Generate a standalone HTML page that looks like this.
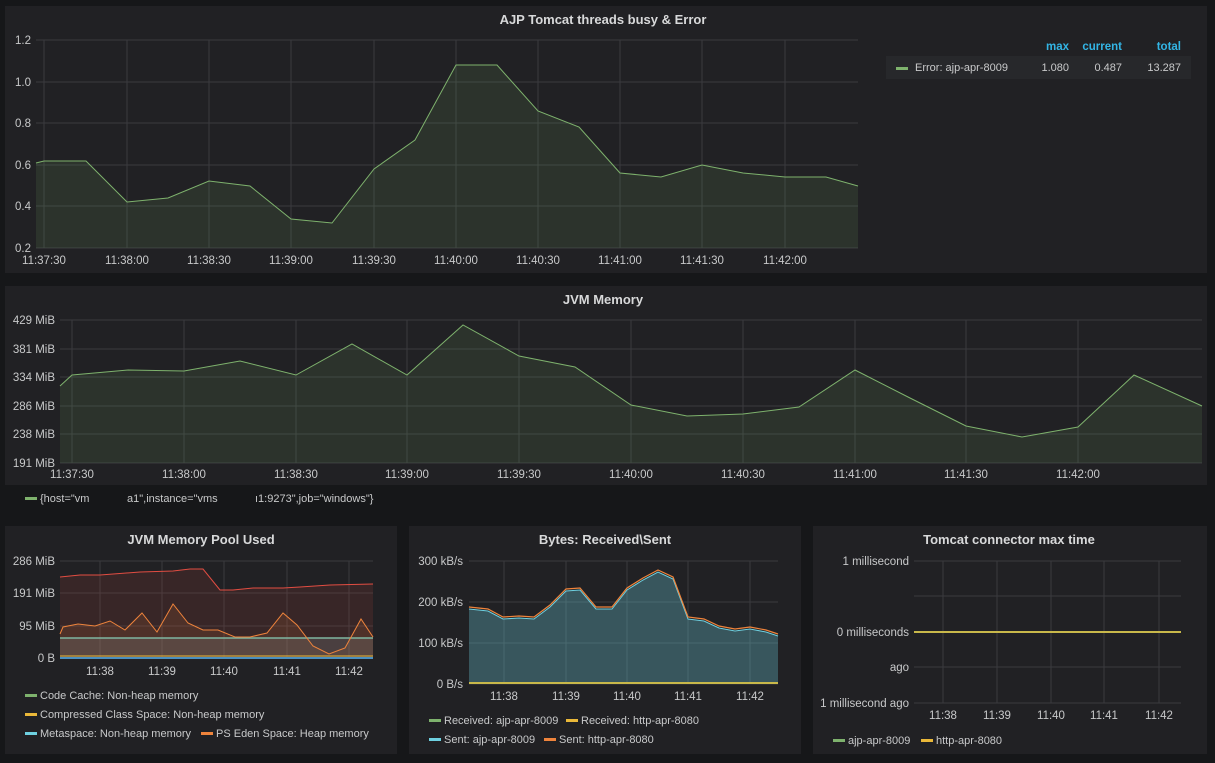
<!DOCTYPE html>
<html><head><meta charset="utf-8"><style>
html,body{margin:0;padding:0;background:#161719;}
svg{display:block;font-family:"Liberation Sans",sans-serif;}
.t{fill:#d8d9da;font-size:13px;font-weight:bold;text-anchor:middle}
.a{fill:#c8c9ca;font-size:11.5px}
.g{stroke:#3a3b3e;stroke-width:1}
.l{fill:#c8c9ca;font-size:11px}
</style></head><body>
<svg width="1215" height="763" viewBox="0 0 1215 763">
<rect width="1215" height="763" fill="#161719"/>
<!-- Panel 1 -->
<rect x="5" y="6" width="1202" height="267" fill="#212124"/>
<text class="t" x="603" y="24">AJP Tomcat threads busy &amp; Error</text>
<g class="g">
<line x1="36" y1="40" x2="858" y2="40"/><line x1="36" y1="82" x2="858" y2="82"/><line x1="36" y1="123" x2="858" y2="123"/><line x1="36" y1="165" x2="858" y2="165"/><line x1="36" y1="206" x2="858" y2="206"/><line x1="36" y1="248" x2="858" y2="248"/>
<line x1="44" y1="40" x2="44" y2="248"/><line x1="127" y1="40" x2="127" y2="248"/><line x1="209" y1="40" x2="209" y2="248"/><line x1="291" y1="40" x2="291" y2="248"/><line x1="374" y1="40" x2="374" y2="248"/><line x1="456" y1="40" x2="456" y2="248"/><line x1="538" y1="40" x2="538" y2="248"/><line x1="620" y1="40" x2="620" y2="248"/><line x1="702" y1="40" x2="702" y2="248"/><line x1="785" y1="40" x2="785" y2="248"/>
</g>
<g class="a"><text x="31" y="44" text-anchor="end">1.2</text><text x="31" y="86" text-anchor="end">1.0</text><text x="31" y="127" text-anchor="end">0.8</text><text x="31" y="169" text-anchor="end">0.6</text><text x="31" y="210" text-anchor="end">0.4</text><text x="31" y="252" text-anchor="end">0.2</text></g>
<g class="a" text-anchor="middle"><text x="44" y="264">11:37:30</text><text x="127" y="264">11:38:00</text><text x="209" y="264">11:38:30</text><text x="291" y="264">11:39:00</text><text x="374" y="264">11:39:30</text><text x="456" y="264">11:40:00</text><text x="538" y="264">11:40:30</text><text x="620" y="264">11:41:00</text><text x="702" y="264">11:41:30</text><text x="785" y="264">11:42:00</text></g>
<polygon fill="#7eb26d" fill-opacity="0.12" points="36,248 36,163 44,161 86,161 127,202 168,198 209,181 250,186 291,219 332,223 374,169 415,140 456,65 497,65 538,111 579,127 620,173 661,177 702,165 743,173 785,177 826,177 858,186 858,248"/>
<polyline fill="none" stroke="#7eb26d" stroke-width="1" points="36,163 44,161 86,161 127,202 168,198 209,181 250,186 291,219 332,223 374,169 415,140 456,65 497,65 538,111 579,127 620,173 661,177 702,165 743,173 785,177 826,177 858,186"/>
<text x="1069" y="50" fill="#33b5e5" font-size="11.5" font-weight="bold" text-anchor="end">max</text>
<text x="1122" y="50" fill="#33b5e5" font-size="11.5" font-weight="bold" text-anchor="end">current</text>
<text x="1181" y="50" fill="#33b5e5" font-size="11.5" font-weight="bold" text-anchor="end">total</text>
<rect x="886" y="56" width="305" height="23" fill="#27282b"/>
<rect x="896" y="67" width="12" height="3" fill="#7eb26d"/>
<text class="l" x="915" y="71">Error: ajp-apr-8009</text>
<text class="l" x="1069" y="71" text-anchor="end">1.080</text>
<text class="l" x="1122" y="71" text-anchor="end">0.487</text>
<text class="l" x="1181" y="71" text-anchor="end">13.287</text>
<!-- Panel 2 -->
<rect x="5" y="286" width="1202" height="199" fill="#212124"/>
<text class="t" x="603" y="304">JVM Memory</text>
<g class="g">
<line x1="60" y1="320" x2="1202" y2="320"/><line x1="60" y1="349" x2="1202" y2="349"/><line x1="60" y1="377" x2="1202" y2="377"/><line x1="60" y1="406" x2="1202" y2="406"/><line x1="60" y1="434" x2="1202" y2="434"/><line x1="60" y1="463" x2="1202" y2="463"/>
<line x1="72" y1="320" x2="72" y2="463"/><line x1="184" y1="320" x2="184" y2="463"/><line x1="296" y1="320" x2="296" y2="463"/><line x1="407" y1="320" x2="407" y2="463"/><line x1="519" y1="320" x2="519" y2="463"/><line x1="631" y1="320" x2="631" y2="463"/><line x1="743" y1="320" x2="743" y2="463"/><line x1="855" y1="320" x2="855" y2="463"/><line x1="966" y1="320" x2="966" y2="463"/><line x1="1078" y1="320" x2="1078" y2="463"/>
</g>
<g class="a" text-anchor="end"><text x="55" y="324">429 MiB</text><text x="55" y="353">381 MiB</text><text x="55" y="381">334 MiB</text><text x="55" y="410">286 MiB</text><text x="55" y="438">238 MiB</text><text x="55" y="467">191 MiB</text></g>
<g class="a" text-anchor="middle"><text x="72" y="478">11:37:30</text><text x="184" y="478">11:38:00</text><text x="296" y="478">11:38:30</text><text x="407" y="478">11:39:00</text><text x="519" y="478">11:39:30</text><text x="631" y="478">11:40:00</text><text x="743" y="478">11:40:30</text><text x="855" y="478">11:41:00</text><text x="966" y="478">11:41:30</text><text x="1078" y="478">11:42:00</text></g>
<polygon fill="#7eb26d" fill-opacity="0.12" points="60,463 60,386 72,375 128,370 184,371 240,361 296,375 352,344 407,375 463,325 519,356 575,367 631,405 687,416 743,414 799,407 855,370 910,398 966,426 1022,437 1078,427 1134,375 1202,406 1202,463"/>
<polyline fill="none" stroke="#7eb26d" stroke-width="1" points="60,386 72,375 128,370 184,371 240,361 296,375 352,344 407,375 463,325 519,356 575,367 631,405 687,416 743,414 799,407 855,370 910,398 966,426 1022,437 1078,427 1134,375 1202,406"/>
<rect x="25" y="497" width="12" height="3" fill="#7eb26d"/>
<text class="l" x="40" y="502">{host="vm</text><text class="l" x="127" y="502">a1",instance="vms</text><text class="l" x="255" y="502">ı1:9273",job="windows"}</text>
<!-- Panel 3 -->
<rect x="5" y="526" width="392" height="228" fill="#212124"/>
<text class="t" x="201" y="544">JVM Memory Pool Used</text>
<g class="g">
<line x1="60" y1="561" x2="373" y2="561"/><line x1="60" y1="593" x2="373" y2="593"/><line x1="60" y1="626" x2="373" y2="626"/><line x1="60" y1="658" x2="373" y2="658"/>
<line x1="100" y1="561" x2="100" y2="658"/><line x1="162" y1="561" x2="162" y2="658"/><line x1="224" y1="561" x2="224" y2="658"/><line x1="287" y1="561" x2="287" y2="658"/><line x1="349" y1="561" x2="349" y2="658"/>
</g>
<g class="a" text-anchor="end"><text x="55" y="565">286 MiB</text><text x="55" y="597">191 MiB</text><text x="55" y="630">95 MiB</text><text x="55" y="662">0 B</text></g>
<g class="a" text-anchor="middle"><text x="100" y="675">11:38</text><text x="162" y="675">11:39</text><text x="224" y="675">11:40</text><text x="287" y="675">11:41</text><text x="349" y="675">11:42</text></g>
<polygon fill="#e24d42" fill-opacity="0.12" points="60,658 60,577 80,575 100,575 140,572 173,571 190,569 203,569 220,590 233,590 253,588 283,588 300,587 330,585 373,584 373,658"/>
<polyline fill="none" stroke="#e24d42" stroke-width="1" points="60,577 80,575 100,575 140,572 173,571 190,569 203,569 220,590 233,590 253,588 283,588 300,587 330,585 373,584"/>
<polygon fill="#ef843c" fill-opacity="0.12" points="60,658 60,634 63,627 78,624 95,626 110,621 125,630 142,613 157,632 173,604 188,623 203,630 218,630 235,637 250,637 267,633 283,613 297,625 313,646 329,654 345,648 361,619 373,637 373,658"/>
<rect x="60" y="638" width="313" height="20" fill="#7f8c8d" fill-opacity="0.25"/>
<line x1="60" y1="638" x2="373" y2="638" stroke="#7fb5a0" stroke-width="1.5"/>
<polyline fill="none" stroke="#ef843c" stroke-width="1" points="60,634 63,627 78,624 95,626 110,621 125,630 142,613 157,632 173,604 188,623 203,630 218,630 235,637 250,637 267,633 283,613 297,625 313,646 329,654 345,648 361,619 373,637"/>
<line x1="60" y1="656" x2="373" y2="656" stroke="#eab839" stroke-width="1"/>
<line x1="60" y1="658" x2="373" y2="658" stroke="#4a8fc0" stroke-width="2"/>
<rect x="25" y="694" width="12" height="3" fill="#7eb26d"/><text class="l" x="40" y="699">Code Cache: Non-heap memory</text>
<rect x="25" y="713" width="12" height="3" fill="#eab839"/><text class="l" x="40" y="718">Compressed Class Space: Non-heap memory</text>
<rect x="25" y="732" width="12" height="3" fill="#6ed0e0"/><text class="l" x="40" y="737">Metaspace: Non-heap memory</text>
<rect x="201" y="732" width="12" height="3" fill="#ef843c"/><text class="l" x="216" y="737">PS Eden Space: Heap memory</text>
<!-- Panel 4 -->
<rect x="409" y="526" width="392" height="228" fill="#212124"/>
<text class="t" x="605" y="544">Bytes: Received\Sent</text>
<g class="g">
<line x1="469" y1="561" x2="778" y2="561"/><line x1="469" y1="602" x2="778" y2="602"/><line x1="469" y1="643" x2="778" y2="643"/><line x1="469" y1="684" x2="778" y2="684"/>
<line x1="504" y1="561" x2="504" y2="684"/><line x1="566" y1="561" x2="566" y2="684"/><line x1="627" y1="561" x2="627" y2="684"/><line x1="688" y1="561" x2="688" y2="684"/><line x1="750" y1="561" x2="750" y2="684"/>
</g>
<g class="a" text-anchor="end"><text x="463" y="565">300 kB/s</text><text x="463" y="606">200 kB/s</text><text x="463" y="647">100 kB/s</text><text x="463" y="688">0 B/s</text></g>
<g class="a" text-anchor="middle"><text x="504" y="700">11:38</text><text x="566" y="700">11:39</text><text x="627" y="700">11:40</text><text x="688" y="700">11:41</text><text x="750" y="700">11:42</text></g>
<polygon fill="#6ed0e0" fill-opacity="0.3" points="469,684 469,609 488,611 503,619 519,618 534,619 550,607 566,591 580,590 596,609 612,609 627,590 643,580 658,572 673,579 688,619 704,621 719,628 735,631 750,629 766,632 778,636 778,684"/>
<polyline fill="none" stroke="#6ed0e0" stroke-width="1" points="469,609 488,611 503,619 519,618 534,619 550,607 566,591 580,590 596,609 612,609 627,590 643,580 658,572 673,579 688,619 704,621 719,628 735,631 750,629 766,632 778,636"/>
<polyline fill="none" stroke="#ef843c" stroke-width="1.2" points="469,607 488,609 503,617 519,616 534,617 550,605 566,589 580,588 596,607 612,607 627,588 643,578 658,570 673,577 688,617 704,619 719,626 735,629 750,627 766,630 778,634"/>
<line x1="469" y1="683" x2="778" y2="683" stroke="#c8b84a" stroke-width="2"/>
<rect x="429" y="719" width="12" height="3" fill="#7eb26d"/><text class="l" x="444" y="724">Received: ajp-apr-8009</text>
<rect x="566" y="719" width="12" height="3" fill="#eab839"/><text class="l" x="581" y="724">Received: http-apr-8080</text>
<rect x="429" y="738" width="12" height="3" fill="#6ed0e0"/><text class="l" x="444" y="743">Sent: ajp-apr-8009</text>
<rect x="544" y="738" width="12" height="3" fill="#ef843c"/><text class="l" x="559" y="743">Sent: http-apr-8080</text>
<!-- Panel 5 -->
<rect x="813" y="526" width="394" height="228" fill="#212124"/>
<text class="t" x="1009" y="544">Tomcat connector max time</text>
<g class="g">
<line x1="914" y1="561" x2="1181" y2="561"/><line x1="914" y1="596" x2="1181" y2="596"/><line x1="914" y1="632" x2="1181" y2="632"/><line x1="914" y1="667" x2="1181" y2="667"/><line x1="914" y1="703" x2="1181" y2="703"/>
<line x1="943" y1="561" x2="943" y2="703"/><line x1="997" y1="561" x2="997" y2="703"/><line x1="1051" y1="561" x2="1051" y2="703"/><line x1="1104" y1="561" x2="1104" y2="703"/><line x1="1159" y1="561" x2="1159" y2="703"/>
</g>
<g class="a" text-anchor="end"><text x="909" y="565">1 millisecond</text><text x="909" y="636">0 milliseconds</text><text x="909" y="671">ago</text><text x="909" y="707">1 millisecond ago</text></g>
<g class="a" text-anchor="middle"><text x="943" y="719">11:38</text><text x="997" y="719">11:39</text><text x="1051" y="719">11:40</text><text x="1104" y="719">11:41</text><text x="1159" y="719">11:42</text></g>
<line x1="914" y1="632" x2="1181" y2="632" stroke="#c8b84a" stroke-width="2"/>
<rect x="833" y="739" width="12" height="3" fill="#7eb26d"/><text class="l" x="848" y="744">ajp-apr-8009</text>
<rect x="921" y="739" width="12" height="3" fill="#eab839"/><text class="l" x="936" y="744">http-apr-8080</text>
</svg>
</body></html>
